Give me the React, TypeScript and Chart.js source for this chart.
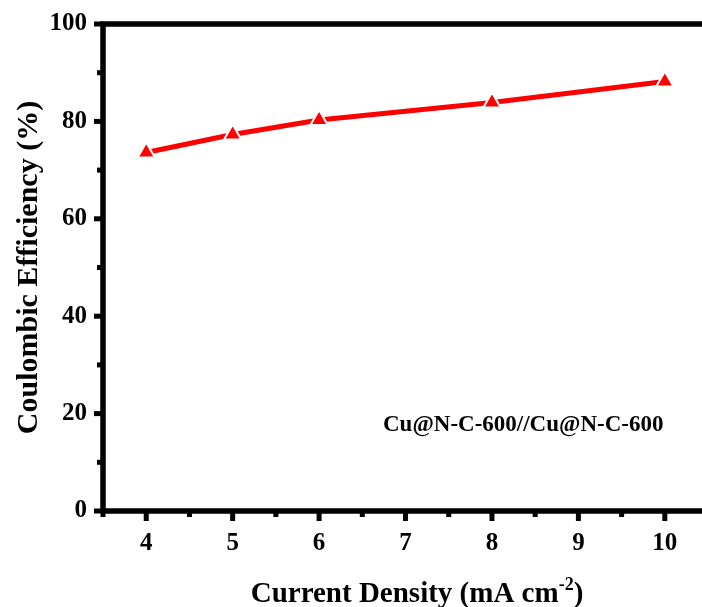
import { useEffect, useRef } from "react";
import { Chart, registerables } from "chart.js";

Chart.register(...registerables);

// Coulombic efficiency vs. current density
const currentDensity = [4, 5, 6, 8, 10];
const coulombicEfficiency = [73.6, 77.3, 80.3, 83.9, 88.2];
const xTickValues = [4, 5, 6, 7, 8, 9, 10];
const yTickValues = [0, 20, 40, 60, 80, 100];
const sampleLabel = "Cu@N-C-600//Cu@N-C-600";
const xTitleMain = "Current Density (mA cm";
const xTitleSup = "-2";
const xTitleEnd = ")";
const yTitle = "Coulombic Efficiency (%)";

const FONT = '"Liberation Serif", "Times New Roman", serif';

const framePlugin = {
  id: "frame",
  afterDraw(chart: any) {
    const { ctx, chartArea: a, scales } = chart;
    const xs = scales.x;
    const ys = scales.y;
    ctx.save();
    ctx.fillStyle = "#000";
    ctx.strokeStyle = "#000";

    // axis frame: top, left and bottom lines
    ctx.lineWidth = 5.5;
    ctx.lineJoin = "miter";
    ctx.beginPath();
    ctx.moveTo(a.right + 5, a.top);
    ctx.lineTo(a.left, a.top);
    ctx.lineTo(a.left, a.bottom);
    ctx.lineTo(a.right + 5, a.bottom);
    ctx.stroke();

    // x ticks (major + minor), pointing outward
    const tw = 5;
    for (const v of xTickValues) {
      const px = xs.getPixelForValue(v);
      ctx.fillRect(px - tw / 2, a.bottom, tw, 10);
    }
    for (let v = xs.min; v <= xs.max + 1e-9; v += 0.5) {
      if (Math.abs(v - Math.round(v)) < 1e-9) continue;
      const px = xs.getPixelForValue(v);
      ctx.fillRect(px - tw / 2, a.bottom, tw, 6);
    }
    // y ticks (major + minor)
    for (const v of yTickValues) {
      const py = ys.getPixelForValue(v);
      ctx.fillRect(a.left - 9, py - tw / 2, 9, tw);
    }
    for (let v = 10; v < 100; v += 20) {
      const py = ys.getPixelForValue(v);
      ctx.fillRect(a.left - 6, py - tw / 2, 6, tw);
    }

    // y axis title
    ctx.font = `bold 30px ${FONT}`;
    ctx.textAlign = "center";
    ctx.textBaseline = "alphabetic";
    ctx.save();
    ctx.translate(37, (a.top + a.bottom) / 2);
    ctx.rotate(-Math.PI / 2);
    ctx.fillText(yTitle, 0, 0);
    ctx.restore();

    // x axis title with superscript
    ctx.textAlign = "left";
    const mainFont = `bold 29px ${FONT}`;
    const supFont = `bold 18px ${FONT}`;
    ctx.font = mainFont;
    const w1 = ctx.measureText(xTitleMain).width;
    const w3 = ctx.measureText(xTitleEnd).width;
    ctx.font = supFont;
    const w2 = ctx.measureText(xTitleSup).width;
    const total = w1 + w2 + w3;
    const cx = 417;
    const base = 602;
    let x0 = cx - total / 2;
    ctx.font = mainFont;
    ctx.fillText(xTitleMain, x0, base);
    x0 += w1;
    ctx.font = supFont;
    ctx.fillText(xTitleSup, x0, base - 12);
    x0 += w2;
    ctx.font = mainFont;
    ctx.fillText(xTitleEnd, x0, base);

    // sample annotation
    ctx.font = `bold 23px ${FONT}`;
    ctx.fillText(sampleLabel, 383, 431);

    ctx.restore();
  },
};

export default function App() {
  const canvasRef = useRef<HTMLCanvasElement | null>(null);

  useEffect(() => {
    const canvas = canvasRef.current;
    if (!canvas) return;
    const tickFont = { family: FONT, size: 25, weight: "bold" as const };
    const chart = new Chart(canvas, {
      type: "line",
      data: {
        datasets: [
          {
            data: currentDensity.map((x, i) => ({ x, y: coulombicEfficiency[i] })),
            borderColor: "#ff0000",
            borderWidth: 5,
            backgroundColor: "#ff0000",
            pointStyle: "triangle",
            pointRadius: 10,
            pointBorderWidth: 2,
            pointBorderColor: "#ffffff",
            pointBackgroundColor: "#ff0000",
            tension: 0,
            fill: false,
            clip: false as any,
          },
        ],
      },
      options: {
        responsive: false,
        animation: false,
        events: [],
        layout: { autoPadding: false, padding: { top: 24, right: 0, left: 0, bottom: 0 } },
        plugins: {
          legend: { display: false },
          title: { display: false },
          tooltip: { enabled: false },
        },
        scales: {
          x: {
            type: "linear",
            min: 3.5,
            max: 10.43,
            grid: { display: false, drawTicks: false },
            border: { display: false },
            afterBuildTicks: (s: any) => {
              s.ticks = xTickValues.map((v) => ({ value: v }));
            },
            afterFit: (s: any) => {
              s.height = 96;
              s.paddingLeft = 0;
              s.paddingRight = 0;
            },
            ticks: {
              font: tickFont,
              color: "#000",
              padding: 18,
              maxRotation: 0,
              autoSkip: false,
            },
          },
          y: {
            type: "linear",
            min: 0,
            max: 100,
            grid: { display: false, drawTicks: false },
            border: { display: false },
            afterBuildTicks: (s: any) => {
              s.ticks = yTickValues.map((v) => ({ value: v }));
            },
            afterFit: (s: any) => {
              s.width = 103;
              s.paddingTop = 0;
              s.paddingBottom = 0;
            },
            ticks: {
              font: tickFont,
              color: "#000",
              padding: 16,
            },
          },
        },
      },
      plugins: [framePlugin],
    });
    return () => chart.destroy();
  }, []);

  return (
    <div
      style={{
        position: "absolute",
        left: 0,
        top: 0,
        width: 702,
        height: 607,
        overflow: "hidden",
        background: "#fff",
      }}
    >
      <canvas ref={canvasRef} width={702} height={607} style={{ display: "block" }} />
    </div>
  );
}
